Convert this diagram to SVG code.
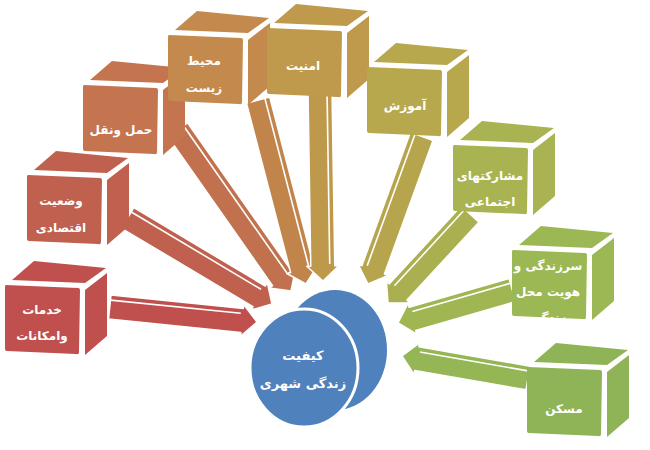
<svg xmlns="http://www.w3.org/2000/svg" xmlns:xlink="http://www.w3.org/1999/xlink" width="650" height="450" viewBox="0 0 650 450">
<style>
.t{font-family:"DejaVu Sans","Noto Sans",sans-serif;font-size:12px;font-weight:bold;fill:#ffffff;text-anchor:middle}
.tc{font-size:13px}
.arr polygon{stroke:#ffffff;stroke-width:1.5;stroke-linejoin:round}
.arr line{stroke:#ffffff;stroke-width:1.6}
.cyl{stroke:#ffffff;stroke-width:3}
</style>
<defs>
<g id="cube">
<path d="M1,0 L73,3 Q75,3 75,5 L74,67 Q74,70 71,69 L2,66 Q0,66 0,64 L0,2 Q0,0 1,0 Z"/>
<path d="M7,-5 L29,-24 L101,-17 L80,-2 Z"/>
<path d="M80,5 L102,-12 L102,51 L80,70 Z"/>
</g>
<clipPath id="clip8"><rect x="512" y="250" width="74" height="68"/></clipPath>
</defs>
<rect width="650" height="450" fill="#ffffff"/>
<g id="connectors" class="arr">
<g transform="translate(257,322) rotate(5.8)" fill="#C0504D"><polygon points="-148,-12 -15,-12 -15,-16 0,0 -15,16 -15,12 -148,12"/><line x1="-148" y1="-7" x2="-17" y2="-7"/></g>
<g transform="translate(272,304) rotate(30.8)" fill="#C0604E"><polygon points="-168,-12 -15,-12 -15,-16 0,0 -15,16 -15,12 -168,12"/><line x1="-168" y1="-7" x2="-17" y2="-7"/></g>
<g transform="translate(291,291) rotate(54.9)" fill="#C2714E"><polygon points="-197,-12 -15,-12 -15,-16 0,0 -15,16 -15,12 -197,12"/><line x1="-197" y1="-7" x2="-17" y2="-7"/></g>
<g transform="translate(306,284) rotate(75.4)" fill="#C1854C"><polygon points="-190,-12 -15,-12 -15,-16 0,0 -15,16 -15,12 -190,12"/><line x1="-190" y1="-7" x2="-17" y2="-7"/></g>
<g transform="translate(323,281) rotate(89.1)" fill="#BE984B"><polygon points="-189,-12 -15,-12 -15,-16 0,0 -15,16 -15,12 -189,12"/><line x1="-189" y1="-7" x2="-17" y2="-7"/></g>
<g transform="translate(368,284) rotate(110)" fill="#B6A54C"><polygon points="-157,-12 -15,-12 -15,-16 0,0 -15,16 -15,12 -157,12"/><line x1="-157" y1="7" x2="-17" y2="7"/></g>
<g transform="translate(388,303) rotate(132.7)" fill="#AAB04F"><polygon points="-121,-12 -15,-12 -15,-16 0,0 -15,16 -15,12 -121,12"/><line x1="-121" y1="7" x2="-17" y2="7"/></g>
<g transform="translate(398,323) rotate(163.9)" fill="#9FB653"><polygon points="-119,-12 -15,-12 -15,-16 0,0 -15,16 -15,12 -119,12"/><line x1="-119" y1="7" x2="-17" y2="7"/></g>
<g transform="translate(402,356) rotate(189.9)" fill="#94B655"><polygon points="-128,-12 -15,-12 -15,-16 0,0 -15,16 -15,12 -128,12"/><line x1="-128" y1="7" x2="-17" y2="7"/></g>
</g>
<g id="n1"><use xlink:href="#cube" x="5" y="285" fill="#C0504D"/><text class="t" x="42" y="314">خدمات</text><text class="t" x="42" y="340">وامکانات</text></g>
<g id="n2"><use xlink:href="#cube" x="27" y="175" fill="#C0604F"/><text class="t" x="61" y="205">وضعیت</text><text class="t" x="61" y="232">اقتصادی</text></g>
<g id="n3"><use xlink:href="#cube" x="83" y="85" fill="#C4744E"/><text class="t" x="121" y="134">حمل ونقل</text></g>
<g id="n4"><use xlink:href="#cube" x="168" y="35" fill="#C4894C"/><text class="t" x="204" y="65">محیط</text><text class="t" x="204" y="92">زیست</text></g>
<g id="n5"><use xlink:href="#cube" x="267" y="28" fill="#BF9A4C"/><text class="t" x="303" y="70">امنیت</text></g>
<g id="n6"><use xlink:href="#cube" x="367" y="67" fill="#B7A84D"/><text class="t" x="405" y="110">آموزش</text></g>
<g id="n7"><use xlink:href="#cube" x="453" y="145" fill="#A9B351"/><text class="t" x="490" y="180">مشارکتهای</text><text class="t" x="490" y="206">اجتماعی</text></g>
<g id="n8"><use xlink:href="#cube" x="512" y="250" fill="#9BB855"/><g clip-path="url(#clip8)"><text class="t" x="548" y="270">سرزندگی و</text><text class="t" x="548" y="296">هویت محل</text><text class="t" x="548" y="322">زندگی</text></g></g>
<g id="n9"><use xlink:href="#cube" x="527" y="367" fill="#8FB457"/><text class="t" x="564" y="413">مسکن</text></g>
<g id="center">
<ellipse cx="335" cy="350" rx="52" ry="60" fill="#4F81BD"/>
<ellipse class="cyl" cx="304" cy="368" rx="54" ry="59" fill="#4F81BD"/>
<text class="t tc" x="303" y="360">کیفیت</text>
<text class="t tc" x="303" y="388">زندگی شهری</text>
</g>
</svg>
